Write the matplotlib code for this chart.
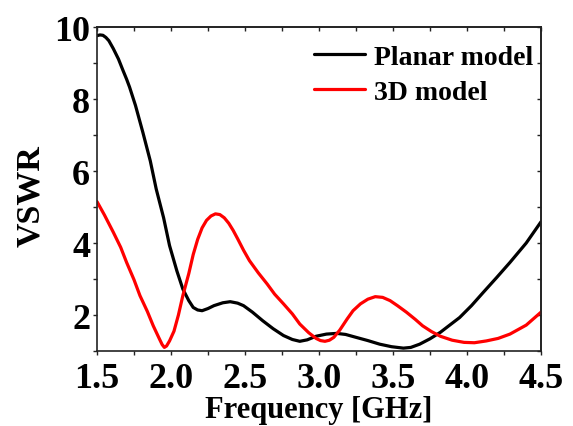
import matplotlib
matplotlib.use("Agg")
import matplotlib.pyplot as plt

# values
freq_planar = [1.50, 1.52, 1.54, 1.56, 1.58, 1.61, 1.645, 1.675, 1.70, 1.72, 1.76, 1.81, 1.86, 1.90,
               1.95, 1.99, 2.04, 2.08, 2.12, 2.15, 2.18, 2.21, 2.25, 2.29, 2.35, 2.40, 2.45,
               2.49, 2.55, 2.62, 2.69, 2.76, 2.82, 2.87, 2.92, 2.98, 3.05, 3.12, 3.18, 3.25,
               3.33, 3.41, 3.49, 3.57, 3.62, 3.68, 3.75, 3.82, 3.88, 3.95, 4.03, 4.11, 4.20,
               4.29, 4.40, 4.50]
vswr_planar = [9.76, 9.78, 9.77, 9.71, 9.62, 9.40, 9.11, 8.80, 8.55, 8.33, 7.82, 7.07, 6.28, 5.50,
               4.70, 3.93, 3.22, 2.72, 2.40, 2.21, 2.14, 2.12, 2.18, 2.26, 2.34, 2.37, 2.33,
               2.26, 2.08, 1.84, 1.62, 1.43, 1.32, 1.27, 1.31, 1.41, 1.47, 1.49, 1.46, 1.38,
               1.29, 1.19, 1.12, 1.08, 1.10, 1.19, 1.34, 1.52, 1.71, 1.93, 2.26, 2.63, 3.04,
               3.46, 4.00, 4.59]

freq_3d = [1.50, 1.55, 1.61, 1.66, 1.70, 1.75, 1.79, 1.84, 1.88, 1.92, 1.94, 1.955, 1.97, 1.99,
           2.02, 2.05, 2.08, 2.12, 2.15, 2.18, 2.21, 2.24, 2.27, 2.30, 2.33, 2.36, 2.39,
           2.42, 2.45, 2.49, 2.53, 2.59, 2.65, 2.70, 2.76, 2.82, 2.87, 2.93, 2.98, 3.01,
           3.04, 3.07, 3.10, 3.14, 3.19, 3.23, 3.28, 3.33, 3.38, 3.43, 3.48, 3.53, 3.59,
           3.65, 3.70, 3.76, 3.82, 3.90, 3.98, 4.05, 4.13, 4.21, 4.29, 4.40, 4.50]
vswr_3d = [5.15, 4.78, 4.30, 3.88, 3.46, 2.98, 2.54, 2.10, 1.70, 1.35, 1.18, 1.10, 1.14, 1.28,
           1.55, 2.00, 2.54, 3.15, 3.68, 4.10, 4.42, 4.63, 4.75, 4.81, 4.79, 4.70, 4.55,
           4.35, 4.12, 3.80, 3.51, 3.17, 2.86, 2.58, 2.31, 2.03, 1.75, 1.51, 1.35, 1.29,
           1.27, 1.30, 1.38, 1.58, 1.89, 2.12, 2.31, 2.44, 2.51, 2.49, 2.40, 2.26, 2.08,
           1.88, 1.70, 1.54, 1.41, 1.30, 1.24, 1.23, 1.28, 1.35, 1.47, 1.72, 2.08]

x_ticks = [1.5, 2.0, 2.5, 3.0, 3.5, 4.0, 4.5]
x_minor = [1.75, 2.25, 2.75, 3.25, 3.75, 4.25]
y_ticks = [2, 4, 6, 8, 10]
y_minor = [1, 3, 5, 7, 9]

plt.rcParams["font.family"] = ["Liberation Serif", "DejaVu Serif"]
plt.rcParams["font.weight"] = "bold"

fig = plt.figure(figsize=(5.73, 4.27), dpi=100)
ax = fig.add_axes([0.1693, 0.1756, 0.7749, 0.7588])

ax.plot(freq_planar, vswr_planar, color="black", lw=2.3, label="Planar model",
        solid_joinstyle="round", solid_capstyle="round")
ax.plot(freq_3d, vswr_3d, color="#ff0000", lw=2.3, label="3D model",
        solid_joinstyle="round", solid_capstyle="round")

ax.set_xlim(1.5, 4.5)
ax.set_ylim(1.0, 10.0)
ax.set_xticks(x_ticks)
ax.set_xticklabels([f"{v:.1f}" for v in x_ticks])
ax.set_yticks(y_ticks)
ax.set_xticks(x_minor, minor=True)
ax.set_yticks(y_minor, minor=True)

for s in ax.spines.values():
    s.set_linewidth(1.2)
    s.set_color("#222222")

ax.tick_params(which="both", direction="out", length=3, width=1.0, color="#222222",
               top=False, right=False)
ax.tick_params(axis="x", which="both", labelsize=26, pad=5)
ax.tick_params(axis="y", which="both", labelsize=26, pad=2)
for lab in ax.get_xticklabels() + ax.get_yticklabels():
    lab.set_fontweight("bold")

# inward ticks on the top and right edges
top = ax.secondary_xaxis("top")
top.set_xticks(x_ticks)
top.set_xticks(x_minor, minor=True)
top.tick_params(which="both", direction="in", length=3, width=1.0, color="#222222",
                labeltop=False)
right = ax.secondary_yaxis("right")
right.set_yticks(y_ticks)
right.set_yticks(y_minor, minor=True)
right.tick_params(which="both", direction="in", length=3, width=1.0, color="#222222",
                  labelright=False)
for sec in (top, right):
    for s in sec.spines.values():
        s.set_linewidth(1.2)
        s.set_color("#222222")

ax.set_xlabel("Frequency [GHz]", fontsize=22, fontweight="bold", labelpad=0)
ax.set_ylabel("VSWR", fontsize=24.5, fontweight="bold")
ax.yaxis.set_label_coords(-0.115, 0.48)

ax.legend(loc="upper right", bbox_to_anchor=(0.994, 0.963), frameon=False,
          prop={"size": 20, "weight": "bold"},
          handlelength=1.85, handletextpad=0.3, labelspacing=0.33,
          borderaxespad=0.0, borderpad=0.2)

fig.savefig("out.png", dpi=100)
